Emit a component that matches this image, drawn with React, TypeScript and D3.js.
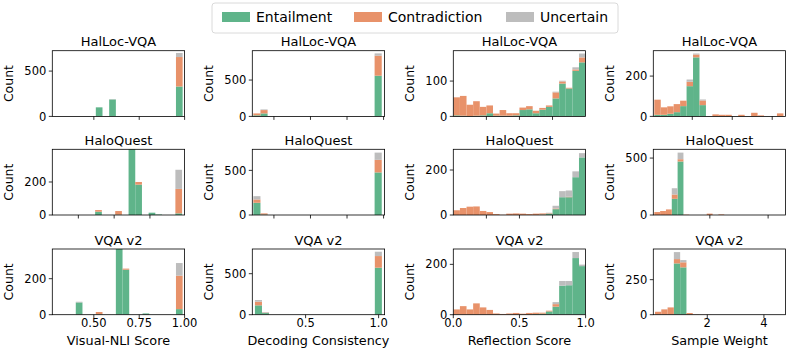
import React from "react";
import * as d3 from "d3";

const rowNames = ["HalLoc-VQA", "HaloQuest", "VQA v2"];
const colMetrics = ["Visual-NLI Score", "Decoding Consistency", "Reflection Score", "Sample Weight"];
const classNames = ["Entailment", "Contradiction", "Uncertain"];
const classColors = ["#5fb48a", "#e8926a", "#bdbdbd"];

// Histogram bin grids per panel [row][col]
const binStart = [
  [0.29, 0.109, 0, 0.05],
  [0.087, 0.109, 0, 0.094],
  [0.29, 0.153, 0, 0.155],
];
const binWidth = [
  [0.0368, 0.0488, 0.05, 0.1615],
  [0.0467, 0.0488, 0.05, 0.2],
  [0.0368, 0.0483, 0.05, 0.222],
];
const xDomains = [
  [[0.271, 1.0], [0.102, 1.007], [0, 1], [0.025, 3.335]],
  [[0.068, 0.992], [0.102, 1.007], [0, 1], [0.06, 4.6]],
  [[0.271, 1.0], [0.135, 1.041], [0, 1], [0.095, 4.765]],
];
const xTicks = [
  [[0.5, 0.75, 1.0], [0.25, 0.5, 0.75, 1.0], [0.25, 0.5, 0.75], [1, 2, 3]],
  [[0.25, 0.5, 0.75], [0.25, 0.5, 0.75, 1.0], [0.25, 0.5, 0.75], [2, 4]],
  [[0.5, 0.75, 1.0], [0.5, 1.0], [0, 0.5, 1.0], [2, 4]],
];
const xTickFormats = [".2f", ".1f", ".1f", "d"];
const yMax = [
  [725, 904, 186, 326],
  [398, 736, 292, 577],
  [365, 801, 261, 469],
];
const yTicks = [
  [[0, 500], [0, 500], [0, 100], [0, 200]],
  [[0, 200], [0, 500], [0, 200], [0, 500]],
  [[0, 200], [0, 500], [0, 200], [0, 250]],
];

// Counts per bin: Entailment / Contradiction / Uncertain
// HalLoc-VQA
const halNliE = [0, 0, 0, 0, 0, 0, 100, 0, 187, 0, 0, 0, 0, 0, 0, 0, 0, 0, 330];
const halNliC = [0, 0, 0, 0, 0, 0, 0, 0, 0, 0, 0, 0, 0, 0, 0, 0, 0, 0, 325];
const halNliU = [0, 0, 0, 0, 0, 0, 0, 0, 4, 0, 0, 0, 0, 0, 0, 0, 0, 0, 45];
const halDecE = [15, 41, 0, 0, 0, 0, 0, 0, 0, 0, 0, 0, 0, 0, 0, 0, 0, 560];
const halDecC = [26, 46, 0, 0, 0, 0, 0, 0, 0, 0, 0, 0, 0, 0, 0, 0, 0, 275];
const halDecU = [0, 9, 0, 0, 0, 0, 0, 0, 0, 0, 0, 0, 0, 0, 0, 0, 0, 32];
const halRefE = [3, 2, 1, 2, 3, 9, 2, 2, 2, 3, 18, 20, 9, 19, 27, 51, 93, 79, 129, 153];
const halRefC = [51, 56, 32, 41, 24, 22, 6, 16, 7, 6, 7, 9, 7, 5, 4, 17, 6, 2, 4, 14];
const halRefU = [0, 0, 0, 0, 0, 0, 0, 0, 0, 0, 0, 0, 0, 0, 0, 2, 2, 0, 6, 11];
const halSwE = [8, 8, 13, 21, 51, 150, 293, 56, 0, 0, 0, 0, 0, 0, 0, 0, 0, 0, 0, 0];
const halSwC = [75, 37, 37, 40, 27, 22, 14, 23, 0, 10, 8, 8, 0, 8, 0, 18, 5, 0, 0, 15];
const halSwU = [0, 0, 0, 0, 0, 11, 5, 5, 0, 0, 0, 0, 0, 0, 0, 0, 0, 0, 0, 0];
// HaloQuest
const hqNliE = [0, 0, 0, 0, 0, 0, 20, 0, 0, 2, 0, 420, 184, 0, 14, 3, 0, 0, 10];
const hqNliC = [0, 0, 0, 0, 0, 0, 10, 0, 0, 22, 0, 0, 16, 0, 0, 0, 0, 0, 148];
const hqNliU = [0, 0, 0, 0, 0, 0, 0, 0, 0, 0, 0, 0, 0, 0, 0, 0, 0, 0, 116];
const hqDecE = [137, 5, 0, 0, 0, 0, 0, 0, 0, 0, 0, 0, 0, 0, 0, 0, 0, 477];
const hqDecC = [37, 13, 0, 0, 0, 0, 0, 0, 0, 0, 0, 0, 0, 0, 0, 0, 0, 141];
const hqDecU = [37, 0, 0, 0, 0, 0, 0, 0, 0, 0, 0, 0, 0, 0, 0, 0, 0, 81];
const hqRefE = [0, 0, 0, 0, 0, 0, 0, 0, 0, 0, 0, 0, 0, 2, 6, 26, 79, 79, 168, 256];
const hqRefC = [21, 31, 37, 38, 18, 13, 4, 1, 6, 7, 6, 4, 6, 5, 2, 3, 0, 2, 0, 0];
const hqRefU = [0, 0, 0, 0, 0, 0, 0, 0, 0, 0, 0, 0, 0, 0, 2, 12, 27, 28, 26, 19];
const hqSwE = [0, 0, 0, 142, 470, 0, 0, 0, 0, 0, 0, 0, 0, 0, 0, 0, 0, 0, 0, 0, 0, 0];
const hqSwC = [26, 35, 49, 38, 20, 3, 0, 0, 0, 12, 0, 5, 0, 0, 0, 0, 0, 0, 0, 0, 0, 0];
const hqSwU = [0, 0, 0, 55, 58, 0, 0, 0, 0, 0, 0, 0, 0, 0, 0, 0, 0, 0, 0, 0, 0, 0];
// VQA v2
const vqaNliE = [0, 0, 0, 68, 0, 0, 2, 0, 0, 380, 250, 0, 0, 7, 0, 0, 0, 0, 31];
const vqaNliC = [0, 0, 0, 0, 0, 0, 13, 0, 0, 0, 6, 0, 0, 0, 0, 0, 0, 0, 186];
const vqaNliU = [0, 0, 0, 4, 0, 0, 0, 0, 0, 0, 0, 0, 0, 0, 0, 0, 0, 0, 70];
const vqaDecE = [114, 20, 0, 0, 0, 0, 0, 0, 0, 0, 0, 0, 0, 0, 0, 0, 0, 573];
const vqaDecC = [45, 5, 0, 0, 0, 0, 0, 0, 0, 0, 0, 0, 0, 0, 0, 0, 0, 142];
const vqaDecU = [20, 7, 0, 0, 0, 0, 0, 0, 0, 0, 0, 0, 0, 0, 0, 0, 0, 53];
const vqaRefE = [0, 0, 0, 0, 0, 0, 0, 0, 0, 0, 0, 0, 3, 4, 13, 32, 115, 117, 225, 193];
const vqaRefC = [21, 34, 21, 45, 29, 19, 5, 3, 5, 7, 4, 7, 5, 4, 3, 10, 0, 0, 0, 0];
const vqaRefU = [0, 0, 0, 0, 0, 0, 0, 0, 0, 0, 0, 0, 0, 0, 0, 8, 19, 17, 24, 6];
const vqaSwE = [0, 0, 0, 366, 338, 0, 0, 0, 0, 0, 0, 0, 0, 0, 0, 0, 0, 0, 0, 0];
const vqaSwC = [21, 38, 52, 31, 36, 12, 2, 1, 1, 0, 0, 0, 0, 0, 0, 0, 0, 0, 0, 0];
const vqaSwU = [0, 0, 0, 50, 16, 0, 0, 0, 0, 0, 0, 0, 0, 0, 0, 0, 0, 0, 0, 0];

const panelCounts = [
  [[halNliE, halNliC, halNliU], [halDecE, halDecC, halDecU], [halRefE, halRefC, halRefU], [halSwE, halSwC, halSwU]],
  [[hqNliE, hqNliC, hqNliU], [hqDecE, hqDecC, hqDecU], [hqRefE, hqRefC, hqRefU], [hqSwE, hqSwC, hqSwU]],
  [[vqaNliE, vqaNliC, vqaNliU], [vqaDecE, vqaDecC, vqaDecU], [vqaRefE, vqaRefC, vqaRefU], [vqaSwE, vqaSwC, vqaSwU]],
];

const W = 793;
const H = 356;
const colLeft = [52.3, 252.3, 453.3, 653.3];
const rowTop = [50.7, 149.3, 249];
const axW = 132.3;
const axH = 65.7;
const FONT = "DejaVu Sans";

function Panel({ r, c }: { r: number; c: number }) {
  const x0 = colLeft[c];
  const y0 = rowTop[r];
  const x = d3.scaleLinear().domain(xDomains[r][c]).range([x0, x0 + axW]);
  const y = d3.scaleLinear().domain([0, yMax[r][c]]).range([y0 + axH, y0]);
  const [E, C, U] = panelCounts[r][c];
  const rows = E.map((e, i) => ({ i, e, c: C[i], u: U[i] }));
  const stacked = d3.stack<any>().keys(["e", "c", "u"])(rows);
  const start = binStart[r][c];
  const bw = binWidth[r][c];
  const clipId = `clip-${r}-${c}`;
  const fmt = d3.format(xTickFormats[c]);
  const bottom = y0 + axH;
  return (
    <g>
      <defs>
        <clipPath id={clipId}>
          <rect x={x0} y={y0} width={axW} height={axH} />
        </clipPath>
      </defs>
      <g clipPath={`url(#${clipId})`}>
        {stacked.map((layer, k) => (
          <g key={k} fill={classColors[k]}>
            {layer.map((d, i) => {
              if (d[1] - d[0] <= 0) return null;
              const xa = x(start + i * bw);
              const xb = x(start + (i + 1) * bw);
              return (
                <rect key={i} x={xa} width={xb - xa} y={y(d[1])} height={y(d[0]) - y(d[1])} />
              );
            })}
          </g>
        ))}
      </g>
      <rect x={x0} y={y0} width={axW} height={axH} fill="none" stroke="#000" strokeWidth={0.8} />
      {xTicks[r][c].map((t) => (
        <g key={t}>
          <line x1={x(t)} x2={x(t)} y1={bottom} y2={bottom + 3.5} stroke="#000" strokeWidth={0.8} />
          {r === 2 && (
            <text x={x(t)} y={bottom + 12.5} textAnchor="middle" fontSize={11.5} fontFamily={FONT} fill="#000">
              {fmt(t)}
            </text>
          )}
        </g>
      ))}
      {yTicks[r][c].map((t) => (
        <g key={t}>
          <line x1={x0 - 3.5} x2={x0} y1={y(t)} y2={y(t)} stroke="#000" strokeWidth={0.8} />
          <text x={x0 - 6} y={y(t)} dy="0.36em" textAnchor="end" fontSize={11.5} fontFamily={FONT} fill="#000">
            {t}
          </text>
        </g>
      ))}
      <text
        transform={`translate(${x0 - 39},${y0 + axH / 2}) rotate(-90)`}
        textAnchor="middle"
        fontSize={12.5}
        fontFamily={FONT}
        fill="#000"
      >
        Count
      </text>
      <text x={x0 + axW / 2} y={y0 - 4.5} textAnchor="middle" fontSize={13} fontFamily={FONT} fill="#000">
        {rowNames[r]}
      </text>
      {r === 2 && (
        <text x={x0 + axW / 2} y={bottom + 29.8} textAnchor="middle" fontSize={12.8} fontFamily={FONT} fill="#000">
          {colMetrics[c]}
        </text>
      )}
    </g>
  );
}

const legendX = [222, 354, 506];

export default function App() {
  const cells: JSX.Element[] = [];
  for (let r = 0; r < 3; r++) for (let c = 0; c < 4; c++) cells.push(<Panel key={`${r}-${c}`} r={r} c={c} />);
  return (
    <svg width={W} height={H} style={{ position: "absolute", left: 0, top: 0, background: "#fff" }}>
      <rect x={0} y={0} width={W} height={H} fill="#fff" />
      {cells}
      <g>
        <rect x={212} y={3} width={406} height={30} rx={3} fill="#fff" stroke="#d0d0d0" strokeWidth={0.8} />
        {classNames.map((n, k) => (
          <g key={n}>
            <rect x={legendX[k]} y={12} width={28} height={10} fill={classColors[k]} />
            <text x={legendX[k] + 34} y={22} fontSize={14} fontFamily={FONT} fill="#000">
              {n}
            </text>
          </g>
        ))}
      </g>
    </svg>
  );
}
